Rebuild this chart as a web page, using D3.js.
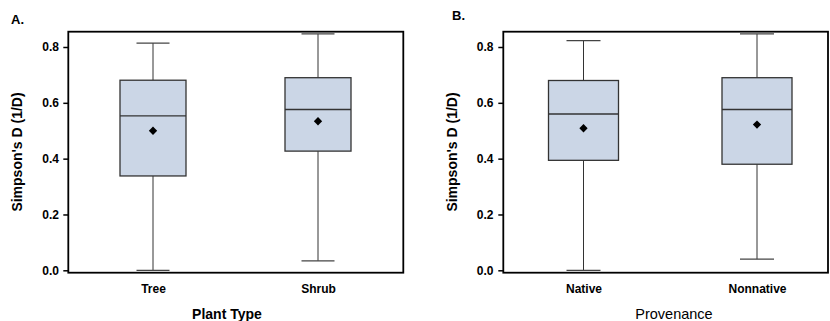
<!DOCTYPE html>
<html>
<head>
<meta charset="utf-8">
<script src="https://cdn.jsdelivr.net/npm/d3@7"></script>
<style>
  html, body { margin: 0; padding: 0; background: #fff; }
  svg { display: block; }
  text { font-family: "Liberation Sans", Arial, sans-serif; fill: #000; }
</style>
</head>
<body>
<svg id="chart" width="830" height="321"></svg>
<script>
// ---- Data ----
const plantTypes = ["Tree", "Shrub"];
const plantMin    = [0.000, 0.034];
const plantQ1     = [0.338, 0.427];
const plantMedian = [0.553, 0.576];
const plantQ3     = [0.681, 0.690];
const plantMax    = [0.814, 0.847];
const plantMean   = [0.500, 0.534];

const provenances = ["Native", "Nonnative"];
const provMin    = [0.000, 0.040];
const provQ1     = [0.394, 0.380];
const provMedian = [0.560, 0.576];
const provQ3     = [0.680, 0.690];
const provMax    = [0.823, 0.847];
const provMean   = [0.509, 0.522];

const yTicks = [0.0, 0.2, 0.4, 0.6, 0.8];
const yLabel = "Simpson's D (1/D)";

// ---- Layout ----
const svg = d3.select("#chart");
const y = d3.scaleLinear().domain([0, 0.8]).range([270.3, 47]);

const panels = [
  { tag: "A.", tagX: 11, tagY: 24, left: 68.3, right: 403.3, centers: [153, 318],
    boxW: 66, capW: 33, cats: plantTypes,
    min: plantMin, q1: plantQ1, med: plantMedian, q3: plantQ3, max: plantMax, mean: plantMean,
    xTitle: "Plant Type", xTitleWeight: "bold", xTitleSize: 14, xTitleX: 227, xTitleY: 318.5,
    yLabelX: 22, tickLabelX: 59 },
  { tag: "B.", tagX: 452, tagY: 20, left: 503.3, right: 828, centers: [583.5, 757],
    boxW: 70, capW: 34, cats: provenances,
    min: provMin, q1: provQ1, med: provMedian, q3: provQ3, max: provMax, mean: provMean,
    xTitle: "Provenance", xTitleWeight: "normal", xTitleSize: 14.5, xTitleX: 674, xTitleY: 319,
    yLabelX: 457, tickLabelX: 493.5 }
];
const frameTop = 31.7, frameBottom = 272.7;

panels.forEach(p => {
  const g = svg.append("g");
  const x = d3.scalePoint().domain(p.cats).range(p.centers);

  // panel tag
  g.append("text").attr("x", p.tagX).attr("y", p.tagY)
    .attr("font-size", 13).attr("font-weight", "bold").text(p.tag);

  // boxes
  p.cats.forEach((c, i) => {
    const cx = x(c);
    const bg = g.append("g");
    // whiskers
    bg.append("line").attr("x1", cx).attr("x2", cx)
      .attr("y1", y(p.max[i])).attr("y2", y(p.q3[i]))
      .attr("stroke", "#333").attr("stroke-width", 1);
    bg.append("line").attr("x1", cx).attr("x2", cx)
      .attr("y1", y(p.q1[i])).attr("y2", y(p.min[i]))
      .attr("stroke", "#333").attr("stroke-width", 1);
    // caps
    [p.max[i], p.min[i]].forEach(v => {
      bg.append("line").attr("x1", cx - p.capW / 2).attr("x2", cx + p.capW / 2)
        .attr("y1", y(v)).attr("y2", y(v))
        .attr("stroke", "#444").attr("stroke-width", 1.3);
    });
    // box
    bg.append("rect")
      .attr("x", cx - p.boxW / 2).attr("width", p.boxW)
      .attr("y", y(p.q3[i])).attr("height", y(p.q1[i]) - y(p.q3[i]))
      .attr("fill", "#cbd6e6").attr("stroke", "#333").attr("stroke-width", 1.3);
    // median
    bg.append("line").attr("x1", cx - p.boxW / 2).attr("x2", cx + p.boxW / 2)
      .attr("y1", y(p.med[i])).attr("y2", y(p.med[i]))
      .attr("stroke", "#333").attr("stroke-width", 1.3);
    // mean (diamond)
    bg.append("path")
      .attr("d", d3.symbol().type(d3.symbolDiamond2).size(44)())
      .attr("transform", `translate(${cx},${y(p.mean[i])})`)
      .attr("fill", "#000");
  });

  // frame
  g.append("rect")
    .attr("x", p.left).attr("y", frameTop)
    .attr("width", p.right - p.left).attr("height", frameBottom - frameTop)
    .attr("fill", "none").attr("stroke", "#000").attr("stroke-width", 1.8);

  // y axis ticks
  const yAxis = d3.axisLeft(y).tickValues(yTicks).tickFormat(d3.format(".1f"))
    .tickSize(5).tickPadding(p.left - 5 - p.tickLabelX);
  const ya = g.append("g").attr("transform", `translate(${p.left},0)`).call(yAxis);
  ya.select(".domain").remove();
  ya.selectAll(".tick line").attr("stroke", "#000").attr("stroke-width", 1.5);
  ya.selectAll(".tick text").attr("font-size", 12).attr("font-weight", "bold")
    .attr("font-family", "'Liberation Sans', Arial, sans-serif").attr("fill", "#000");

  // x axis labels
  const xAxis = d3.axisBottom(x).tickSize(0).tickPadding(12);
  const xa = g.append("g").attr("transform", `translate(0,${frameBottom})`).call(xAxis);
  xa.select(".domain").remove();
  xa.selectAll(".tick text").attr("font-size", 12).attr("font-weight", "bold")
    .attr("font-family", "'Liberation Sans', Arial, sans-serif").attr("fill", "#000");

  // y label
  g.append("text")
    .attr("transform", `translate(${p.yLabelX},${152}) rotate(-90)`)
    .attr("text-anchor", "middle").attr("font-size", 14).attr("font-weight", "bold")
    .text(yLabel);

  // x title
  g.append("text").attr("x", p.xTitleX).attr("y", p.xTitleY)
    .attr("text-anchor", "middle").attr("font-size", p.xTitleSize)
    .attr("font-weight", p.xTitleWeight).text(p.xTitle);
});
</script>
</body>
</html>
